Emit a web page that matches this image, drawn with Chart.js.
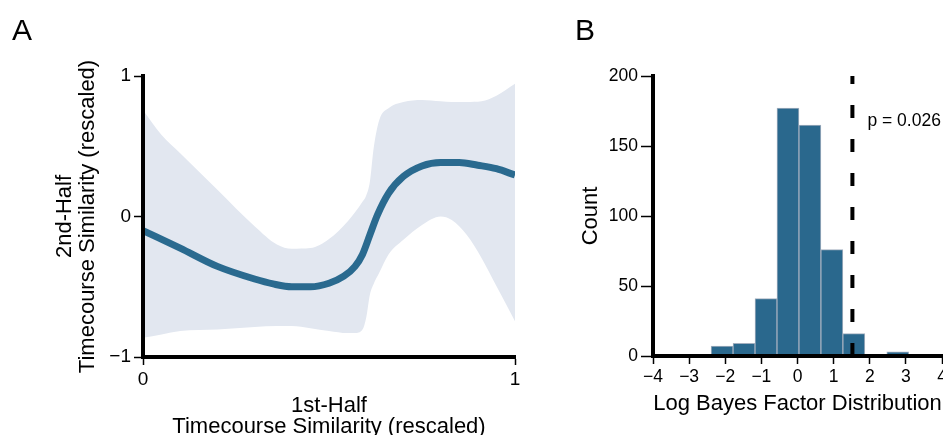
<!DOCTYPE html>
<html>
<head>
<meta charset="utf-8">
<script src="https://cdn.jsdelivr.net/npm/chart.js@4.4.0/dist/chart.umd.min.js"></script>
<style>
  html, body { margin: 0; padding: 0; background: #fff; overflow: hidden; }
  #wrap { position: relative; width: 943px; height: 435px; overflow: hidden; }
  canvas { position: absolute; top: 0; }
  #chartA { left: 0; }
  #chartB { left: 560px; }
  .panel { position: absolute; font-family: 'Liberation Sans', Arial, sans-serif; font-size: 30px; line-height: 30px; color: #000; }
</style>
</head>
<body>
<div id="wrap">
  <canvas id="chartA" width="560" height="440"></canvas>
  <canvas id="chartB" width="383" height="440"></canvas>
  <div class="panel" style="left:12px; top:15px;">A</div>
  <div class="panel" style="left:575px; top:15px;">B</div>
</div>
<script>
// Datos del panel A: curva ajustada y banda de confianza
var fitX = [0, 0.10, 0.20, 0.30, 0.35, 0.40, 0.45, 0.50, 0.54, 0.57, 0.59, 0.61, 0.63, 0.66, 0.70, 0.75, 0.80, 0.85, 0.90, 0.95, 1.00];
var fitY = [-0.10, -0.225, -0.355, -0.445, -0.48, -0.50, -0.50, -0.475, -0.425, -0.355, -0.27, -0.13, 0.01, 0.165, 0.285, 0.36, 0.385, 0.385, 0.365, 0.34, 0.295];

var bandX = [0, 0.05, 0.10, 0.20, 0.30, 0.36, 0.40, 0.45, 0.50, 0.55, 0.57, 0.59, 0.60, 0.61, 0.62, 0.635, 0.66, 0.70, 0.75, 0.80, 0.83, 0.87, 0.91, 0.95, 1.00];
var bandUpper = [0.757, 0.58, 0.45, 0.19, -0.07, -0.20, -0.23, -0.225, -0.16, -0.035, 0.03, 0.105, 0.15, 0.25, 0.485, 0.685, 0.77, 0.815, 0.83, 0.82, 0.815, 0.815, 0.82, 0.86, 0.945];
var bandLower = [-0.863, -0.84, -0.815, -0.805, -0.787, -0.78, -0.78, -0.795, -0.815, -0.83, -0.83, -0.805, -0.72, -0.555, -0.48, -0.40, -0.27, -0.165, -0.06, 0.0, -0.025, -0.13, -0.295, -0.495, -0.745];

// Datos del panel B: histograma de log Bayes factor
var binCenters = [-2.696, -2.088, -1.480, -0.872, -0.264, 0.344, 0.952, 1.560, 2.168, 2.776];
var binCounts = [1, 7, 9, 41, 177, 165, 76, 16, 0, 3];
var observedX = 1.52;
var pLabel = 'p = 0.026';

Chart.defaults.font.family = "'Liberation Sans', Arial, sans-serif";
Chart.defaults.color = '#000';

var lineColor = '#2a6a8f';
var bandColor = '#e2e7f0';

function toPoints(xs, ys) {
    return xs.map(function(x, i) { return { x: x, y: ys[i] }; });
}

// Fija el tamaño del eje para controlar el área del gráfico
function fixSize(w, h) {
    return function(scale) {
        if (w !== null) scale.width = w;
        if (h !== null) scale.height = h;
        scale.paddingLeft = 0;
        scale.paddingRight = 0;
        scale.paddingTop = 0;
        scale.paddingBottom = 0;
    };
}

function minusSign(value) {
    return String(value).replace('-', '\u2212');
}

/* Gráfico A */
var dataA = {
    datasets: [{
        label: 'fit',
        data: toPoints(fitX, fitY),
        borderColor: lineColor,
        borderWidth: 7,
        pointRadius: 0,
        cubicInterpolationMode: 'monotone',
        fill: false
    }, {
        label: 'upper',
        data: toPoints(bandX, bandUpper),
        borderWidth: 0,
        borderColor: bandColor,
        backgroundColor: bandColor,
        pointRadius: 0,
        cubicInterpolationMode: 'monotone',
        fill: '+1'
    }, {
        label: 'lower',
        data: toPoints(bandX, bandLower),
        borderWidth: 0,
        borderColor: bandColor,
        pointRadius: 0,
        cubicInterpolationMode: 'monotone',
        fill: false
    }]
};

var optionsA = {
    responsive: false,
    animation: false,
    layout: { padding: { top: 76, right: 45, bottom: 0, left: 0 } },
    plugins: { legend: { display: false }, tooltip: { enabled: false } },
    scales: {
        x: {
            type: 'linear', min: 0, max: 1,
            afterFit: fixSize(null, 83),
            ticks: { stepSize: 1, font: { size: 19 }, color: '#000', padding: 3, maxRotation: 0, callback: minusSign },
            grid: { drawOnChartArea: false, color: '#000', tickColor: '#000', tickLength: 8, tickWidth: 1.5 },
            border: { color: '#000', width: 4, z: 1 },
            title: {
                display: true,
                text: ['1st-Half', 'Timecourse Similarity (rescaled)'],
                color: '#000',
                font: { size: 22, lineHeight: '21px' },
                padding: { top: 0, bottom: 2.1 }
            }
        },
        y: {
            type: 'linear', min: -1, max: 1,
            afterFit: fixSize(143, null),
            ticks: { stepSize: 1, font: { size: 19 }, color: '#000', padding: 3, callback: minusSign },
            grid: { drawOnChartArea: false, color: '#000', tickColor: '#000', tickLength: 9, tickWidth: 1.5 },
            border: { color: '#000', width: 4, z: 1 },
            title: {
                display: true,
                text: ['2nd-Half', 'Timecourse Similarity (rescaled)'],
                color: '#000',
                font: { size: 22, lineHeight: '23px' },
                padding: { top: 53.2, bottom: 0 }
            }
        }
    }
};

var chartA = new Chart(document.getElementById('chartA').getContext('2d'), {
    type: 'line',
    data: dataA,
    options: optionsA
});

/* Gráfico B */
var pLabelPlugin = {
    id: 'pLabel',
    afterDatasetsDraw: function(chart) {
        var ctx = chart.ctx;
        var x = chart.scales.x.getPixelForValue(observedX) + 15;
        var y = chart.scales.y.getPixelForValue(164);
        ctx.save();
        ctx.font = "17.5px 'Liberation Sans', Arial, sans-serif";
        ctx.fillStyle = '#000';
        ctx.textBaseline = 'alphabetic';
        ctx.textAlign = 'left';
        ctx.fillText(pLabel, x, y);
        ctx.restore();
    }
};

var dataB = {
    datasets: [{
        type: 'line',
        label: 'observed',
        data: [{ x: observedX, y: 0 }, { x: observedX, y: 200 }],
        borderColor: '#000',
        borderWidth: 4,
        borderDash: [13, 21],
        pointRadius: 0,
        order: 0
    }, {
        type: 'bar',
        label: 'Count',
        data: toPoints(binCenters, binCounts),
        backgroundColor: '#2a688d',
        borderColor: '#a3afbf',
        borderWidth: 1,
        barPercentage: 1,
        categoryPercentage: 1,
        order: 1
    }]
};

var optionsB = {
    responsive: false,
    animation: false,
    layout: { padding: { top: 76, right: 1, bottom: 0, left: 0 } },
    plugins: { legend: { display: false }, tooltip: { enabled: false } },
    scales: {
        x: {
            type: 'linear', min: -4, max: 4, offset: false,
            afterFit: fixSize(null, 84),
            ticks: { stepSize: 1, font: { size: 17.5 }, color: '#000', padding: 3, maxRotation: 0, callback: minusSign },
            grid: { offset: false, drawOnChartArea: false, color: '#000', tickColor: '#000', tickLength: 8, tickWidth: 1.5 },
            border: { color: '#000', width: 4, z: 1 },
            title: {
                display: true,
                text: 'Log Bayes Factor Distribution',
                color: '#000',
                font: { size: 22, lineHeight: '22px' },
                padding: { top: 0, bottom: 24.6 }
            }
        },
        y: {
            type: 'linear', min: 0, max: 200,
            afterFit: fixSize(93, null),
            ticks: { stepSize: 50, font: { size: 17.5 }, color: '#000', padding: 3 },
            grid: { drawOnChartArea: false, color: '#000', tickColor: '#000', tickLength: 12, tickWidth: 1.5 },
            border: { color: '#000', width: 4, z: 1 },
            title: {
                display: true,
                text: 'Count',
                color: '#000',
                font: { size: 22, lineHeight: '22px' },
                padding: { top: 19.7, bottom: 0 }
            }
        }
    }
};

var chartB = new Chart(document.getElementById('chartB').getContext('2d'), {
    type: 'bar',
    data: dataB,
    options: optionsB,
    plugins: [pLabelPlugin]
});
</script>
</body>
</html>
